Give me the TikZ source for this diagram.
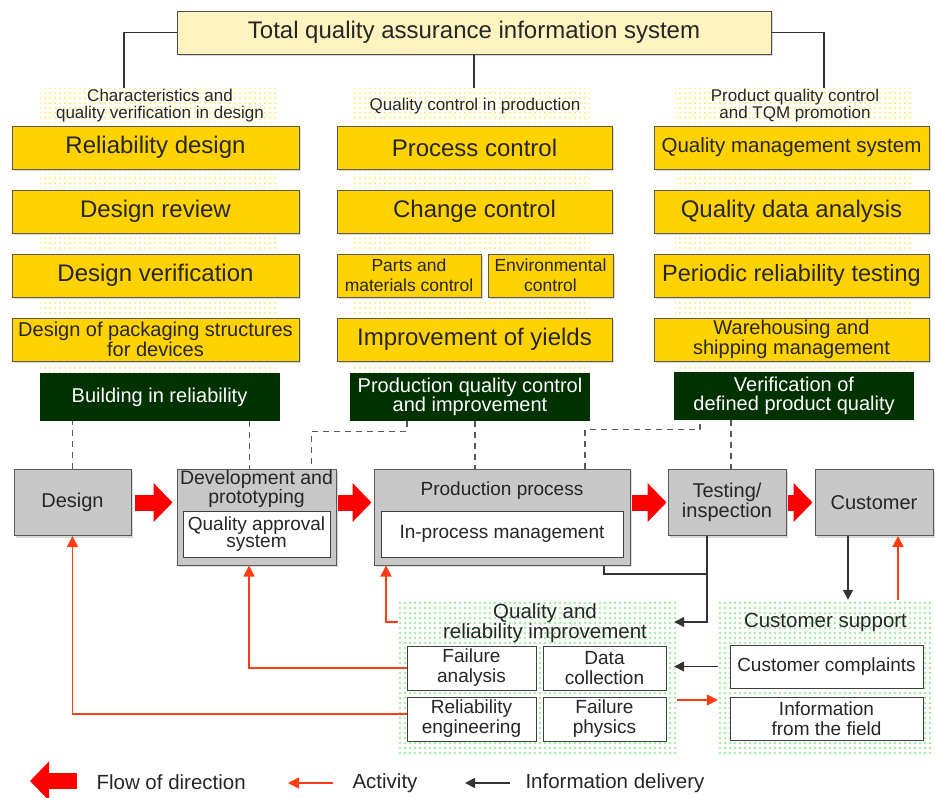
\documentclass[tikz,border=0pt]{standalone}
\usepackage{fontspec}
\setmainfont{Liberation Sans}
\usetikzlibrary{arrows.meta,shadows,patterns.meta}

\definecolor{cream}{RGB}{255,243,192}
\definecolor{gold}{RGB}{255,210,0}
\definecolor{forest}{RGB}{0,50,0}
\definecolor{boxgray}{RGB}{200,200,200}
\definecolor{actred}{RGB}{255,60,20}
\definecolor{flowred}{RGB}{255,0,0}
\definecolor{dotyellow}{RGB}{255,240,140}
\definecolor{dotgreen}{RGB}{160,236,160}

\tikzset{
  shade/.style={drop shadow={shadow xshift=2pt,shadow yshift=-2pt,opacity=0.3}},
  titlebox/.style={draw=black!70, line width=1pt, fill=cream, inner sep=0pt, shade,
    text=black!85, font=\fontsize{24}{26}\selectfont},
  task/.style={draw=black!65, line width=1pt, fill=gold, inner sep=0pt, shade,
    minimum height=43pt, align=center, text=black!85, font=\fontsize{24}{26}\selectfont},
  goal/.style={fill=forest, text=white, inner sep=0pt, minimum height=48pt,
    minimum width=240pt, align=center, font=\fontsize{20}{19}\selectfont},
  stage/.style={draw=black!65, line width=1pt, fill=boxgray, inner sep=0pt, shade,
    align=center, text=black!85, font=\fontsize{20}{20}\selectfont},
  stagetext/.style={inner sep=0pt, align=center, text=black!85},
  inbox/.style={draw=black!75, line width=1pt, fill=white, inner sep=0pt, align=center,
    text=black!85, font=\fontsize{19}{20}\selectfont},
  colhead/.style={align=center, text=black!85, font=\fontsize{17}{17}\selectfont},
  zone/.style={inner sep=0pt, pattern={Dots[radius=1.4pt,distance=5pt]}, pattern color=dotgreen},
  dotsy/.style={pattern={Dots[radius=1.4pt,distance=5pt]}, pattern color=dotyellow},
  flow/.style={draw=flowred, line width=16pt, -{Triangle[length=19pt,width=38pt]}},
  activity/.style={draw=actred, line width=1.5pt, -{Triangle[length=11pt,width=11pt]}},
  infoline/.style={draw=black!80, line width=1.5pt},
  info/.style={infoline, -{Triangle[length=10pt,width=10pt]}},
  guide/.style={draw=black!65, line width=1.2pt, dash pattern=on 6pt off 5pt},
  legend/.style={anchor=west, text=black!85, font=\fontsize{20.5}{22}\selectfont}
}

\begin{document}
\begin{tikzpicture}[x=1pt, y=-1pt]
  \useasboundingbox (0,0) rectangle (935,798);

  % dotted column backgrounds
  \foreach \xa/\xb in {40/278, 352/590, 675/913} {
    \fill[dotsy] (\xa,88) rectangle (\xb,122);
    \foreach \yy in {173, 237, 301}
      \fill[dotsy] (\xa,\yy) rectangle (\xb,\yy+14);
    \fill[dotsy] (\xa,365) rectangle (\xb,372);
  }

  % Header
  \node (title) [titlebox, minimum width=594pt, minimum height=43pt] at (474,32.5)
    {Total quality assurance information system};
  \coordinate (h1) at (124,88);
  \coordinate (h2) at (474,88);
  \coordinate (h3) at (824,88);
  \draw[infoline] (title.west) -| (h1);
  \draw[infoline] (title.south) -- (h2);
  \draw[infoline] (title.east) -| (h3);

  \node (head1) [colhead] at (160,106) {Characteristics and\\quality verification in design};
  \node (head2) [colhead] at (475,106) {Quality control in production};
  \node (head3) [colhead] at (795,106) {Product quality control\\and TQM promotion};

  % Column tasks
  \node (rd) [task, minimum width=287pt] at (155.5,147.5) {Reliability design};
  \node (dr) [task, minimum width=287pt] at (155.5,211.5) {Design review};
  \node (dv) [task, minimum width=287pt] at (155.5,275.5) {Design verification};
  \node (dp) [task, minimum width=287pt, font=\fontsize{20}{20}\selectfont] at (155.5,339.5)
    {Design of packaging structures\\for devices};

  \node (pc) [task, minimum width=275pt] at (474.5,147.5) {Process control};
  \node (cc) [task, minimum width=275pt] at (474.5,211.5) {Change control};
  \node (pm) [task, minimum width=144pt, font=\fontsize{17.5}{20}\selectfont] at (409,275.5)
    {Parts and\\materials control};
  \node (ec) [task, minimum width=125pt, font=\fontsize{17.5}{20}\selectfont] at (550.5,275.5)
    {Environmental\\control};
  \node (iy) [task, minimum width=275pt] at (474.5,339.5) {Improvement of yields};

  \node (qms) [task, minimum width=275pt, font=\fontsize{20.5}{22}\selectfont] at (791.5,147.5)
    {Quality management system};
  \node (qda) [task, minimum width=275pt] at (791.5,211.5) {Quality data analysis};
  \node (prt) [task, minimum width=275pt, font=\fontsize{23.5}{26}\selectfont] at (791.5,275.5)
    {Periodic reliability testing};
  \node (wsm) [task, minimum width=275pt, font=\fontsize{20}{20}\selectfont] at (791.5,339.5)
    {Warehousing and\\shipping management};

  % Goals
  \node (bir) [goal] at (159.5,397) {Building in reliability};
  \node (pqc) [goal] at (470,397) {Production quality control\\and improvement};
  \node (vdq) [goal] at (794,395.5) {Verification of\\defined product quality};

  % Process stages
  \node (design) [stage, minimum width=117pt, minimum height=66pt] at (72.5,502.5) {Design};
  \node (devel) [stage, minimum width=159pt, minimum height=96pt] at (256.5,517) {};
  \node (develtxt) [stagetext, font=\fontsize{19.5}{16}\selectfont] at (256.5,489)
    {Development and\\prototyping};
  \node (qas) [inbox, minimum width=147pt, minimum height=46pt, font=\fontsize{19}{16}\selectfont]
    at (256.5,534) {Quality approval\\system};
  \node (prod) [stage, minimum width=256pt, minimum height=96pt] at (502,517) {};
  \node (prodtxt) [stagetext, font=\fontsize{19}{20}\selectfont] at (502,491) {Production process};
  \node (ipm) [inbox, minimum width=242pt, minimum height=46pt] at (502,534) {In-process management};
  \node (test) [stage, minimum width=118pt, minimum height=66pt] at (727,502.5) {Testing/\\inspection};
  \node (cust) [stage, minimum width=118pt, minimum height=66pt] at (874,502.5) {Customer};

  % Flow of direction
  \draw[flow, shorten <=3pt, shorten >=4pt] (design.east) -- (design.east -| devel.west);
  \draw[flow, shorten <=1pt, shorten >=2pt] (devel.east |- design.east) -- (prod.west |- design.east);
  \draw[flow, shorten <=1pt, shorten >=1pt] (prod.east |- test.west) -- (test.west);
  \draw[flow, shorten <=1pt, shorten >=2pt] (test.east) -- (cust.west);

  % Dashed guides
  \draw[guide] (design.north) -- (design.north |- bir.south);
  \draw[guide] ([xshift=90pt]bir.south) -- ([xshift=90pt]bir.south |- devel.north);
  \draw[guide] ([xshift=-63pt]pqc.south) -- ++(0,10) -| ([xshift=55pt]devel.north);
  \draw[guide] ([xshift=5pt]pqc.south) -- ([xshift=5pt]pqc.south |- prod.north);
  \draw[guide] ([xshift=83pt]prod.north) -- ++(0,-39) -| ([xshift=-94pt]vdq.south);
  \draw[guide] ([xshift=-63pt]vdq.south) -- ([xshift=-63pt]vdq.south |- test.north);

  % Improvement and support zones
  \node (qri) [zone, minimum width=279pt, minimum height=155pt] at (537.5,677.5) {};
  \node (qritxt) [colhead, font=\fontsize{20.5}{18}\selectfont] at (545,623)
    {Quality and\\reliability improvement};
  \node (fana) [inbox, minimum width=129pt, minimum height=44pt] at (471.5,668) {Failure\\analysis};
  \node (dcol) [inbox, minimum width=123pt, minimum height=44pt] at (604.5,668) {Data\\collection};
  \node (reng) [inbox, minimum width=129pt, minimum height=44pt] at (471.5,719) {Reliability\\engineering};
  \node (fphy) [inbox, minimum width=123pt, minimum height=44pt] at (604.5,719) {Failure\\physics};

  \node (cs) [zone, minimum width=215pt, minimum height=155pt] at (825.5,677.5) {};
  \node (cstxt) [colhead, font=\fontsize{20.5}{22}\selectfont] at (825.5,622) {Customer support};
  \node (ccomp) [inbox, minimum width=193pt, minimum height=43pt] at (826.5,666.5) {Customer complaints};
  \node (ifield) [inbox, minimum width=193pt, minimum height=43pt] at (826.5,718.5) {Information\\from the field};

  % Activity
  \draw[activity] ([yshift=5pt]reng.west) -| (design.south);
  \draw[activity] (fana.west) -| ([xshift=-7.5pt]devel.south);
  \draw[activity] ([yshift=55.5pt]qri.west) -| ([xshift=-116pt]prod.south);
  \draw[activity] ([yshift=-22.5pt]qri.east) -- ([yshift=-22.5pt]cs.west);
  \draw[activity] ([xshift=24pt]cust.south |- cs.north) -- ([xshift=24pt]cust.south);

  % Information delivery
  \draw[info] ([xshift=-26pt]cust.south) -- ([xshift=-26pt]cust.south |- cs.north);
  \draw[info, shorten >=-3pt] ([xshift=-20pt]test.south) |- ([yshift=55.5pt]qri.east);
  \draw[infoline] ([xshift=102pt]prod.south) |- ([xshift=-20pt,yshift=-38pt]test.south);
  \draw[info, shorten >=-3pt] (cs.west |- ccomp.west) -- (qri.east |- ccomp.west);

  % Legend
  \coordinate (lf1) at (77,781);
  \coordinate (lf2) at (30,781);
  \coordinate (la1) at (333,783);
  \coordinate (la2) at (288,783);
  \coordinate (li1) at (510,783);
  \coordinate (li2) at (465,783);
  \draw[flow] (lf1) -- (lf2);
  \node (lgflow) [legend] at (93,782) {Flow of direction};
  \draw[activity] (la1) -- (la2);
  \node (lgact) [legend] at (349,783) {Activity};
  \draw[info] (li1) -- (li2);
  \node (lginfo) [legend] at (522,783) {Information delivery};
\end{tikzpicture}
\end{document}
